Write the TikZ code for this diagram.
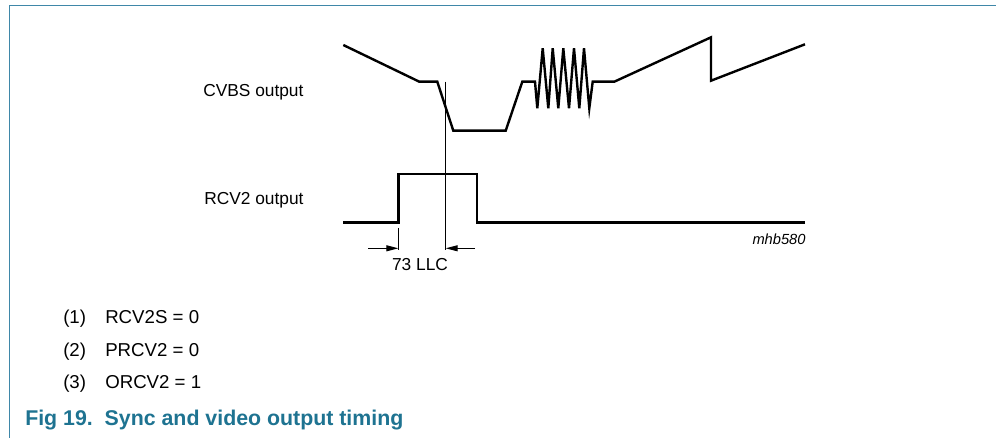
\documentclass[tikz,border=0pt]{standalone}
\usepackage{fontspec}
\setmainfont{Liberation Sans}
\usetikzlibrary{arrows.meta}
\definecolor{frameblue}{HTML}{3F87A8}
\definecolor{captionblue}{HTML}{1E7391}
\tikzset{
  wave/.style={line width=1.8pt, line join=miter},
  thin/.style={line width=0.7pt},
  dimarrow/.style={line width=0.7pt, -{Triangle[length=9pt,width=4.5pt]}},
  lbl/.style={font=\fontsize{13}{15}\selectfont, inner sep=0pt},
  note/.style={font=\fontsize{14}{16}\selectfont, inner sep=0pt, anchor=base west},
}
\begin{document}
\begin{tikzpicture}[x=0.75pt,y=-0.75pt]
\useasboundingbox (0,0) rectangle (996,438);
% frame
\draw[frameblue, line width=1.4pt] (9.5,438) -- (9.5,5.5) -- (996,5.5);
% labels
\node[lbl, anchor=base west] (cvbsl) at (203,96.2) {CVBS output};
\node[lbl, anchor=base west] (rcvl) at (204,204.2) {RCV2 output};
% CVBS waveform
\draw[wave] (343.3,45) -- (419.3,81.7) -- (437.3,81.7) -- (453.3,130.7) -- (505.7,130.7) -- (522.3,81.7) -- (535,81.7)
  -- (537.3,108.3) -- (542.7,48.3) -- (548.3,108.3) -- (552.7,48.3) -- (558.3,108.3) -- (563.3,48.3)
  -- (569,108.3) -- (574,48.3) -- (579.3,108.3) -- (584,48.3) -- (589.3,108.3) -- (592.7,81.7)
  -- (614.3,81.7) -- (711,37.3) -- (711,80.7) -- (805,44.3);
% RCV2 waveform
\draw[wave] (343,222.7) -- (398.3,222.7) -- (398.3,174) -- (476.7,174) -- (476.7,222.7) -- (805,222.7);
% reference lines
\coordinate (t1) at (445.7,81.7);
\coordinate (b1) at (445.7,250);
\coordinate (t2) at (398.3,228);
\coordinate (b2) at (398.3,250);
\draw[thin] (t1) -- (b1);
\draw[thin] (t2) -- (b2);
% dimension arrows
\coordinate (a1) at (368.3,248.3);
\coordinate (a1e) at (398.3,248.3);
\coordinate (a2) at (475,248.3);
\coordinate (a2e) at (445.7,248.3);
\draw[dimarrow] (a1) -- (a1e);
\draw[dimarrow] (a2) -- (a2e);
\node[lbl] (llc) at (420,265) {73 LLC};
\node[font=\fontsize{11}{13}\selectfont\itshape, inner sep=0pt] (mhb) at (779,239) {mhb580};
% notes
\node[note] (n1a) at (63,323.4) {(1)};
\node[note] (n1b) at (105,323.4) {RCV2S = 0};
\node[note] (n2a) at (63,356) {(2)};
\node[note] (n2b) at (105,356) {PRCV2 = 0};
\node[note] (n3a) at (63,388.4) {(3)};
\node[note] (n3b) at (105,388.4) {ORCV2 = 1};
\node[note, font=\fontsize{16}{18}\selectfont\bfseries, text=captionblue] (cap) at (25,425.5) {Fig 19.\ \ Sync and video output timing};
\end{tikzpicture}
\end{document}
